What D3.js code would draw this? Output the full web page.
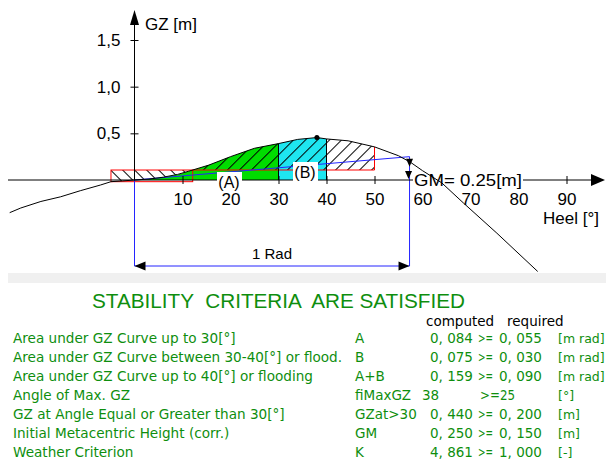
<!DOCTYPE html>
<html>
<head>
<meta charset="utf-8">
<script src="https://cdn.jsdelivr.net/npm/d3@7"></script>
<style>
  body { margin: 0; background: #fff; }
  svg { display: block; font-family: "Liberation Sans", Arial, sans-serif; }
</style>
</head>
<body>
<svg id="chart" width="606" height="463"></svg>
<script>
// GZ curve
const heel = [-26, -23.7, -19.5, -15.4, -11.3, -7.1, -4.9, -2.5, 0, 3, 6, 9, 12, 15.5, 20, 25, 30, 34, 38, 40, 44.5, 50, 55, 57.5, 60, 64, 68.5, 75.5, 84];
const gz = [-0.35, -0.30, -0.23, -0.18, -0.115, -0.054, -0.018, -0.01, 0, 0.01, 0.03, 0.06, 0.105, 0.16, 0.25, 0.34, 0.39, 0.435, 0.455, 0.44, 0.42, 0.355, 0.26, 0.19, 0.1, -0.03, -0.245, -0.57, -0.98];

const xTicks = [10, 20, 30, 40, 50, 60, 70, 80, 90];
const yTicks = [0.5, 1.0, 1.5];

// weather criterion / area limits
const GM = 0.25;
const windLever = 0.107;
const windBottom = -0.018;
const rollBack = -4.9;
const limA = [0, 30];
const limB = [30, 40];
const limWind = 50;
const oneRad = 57.3;

// criteria table
const critText = [
  "Area under GZ Curve up to 30[°]",
  "Area under GZ Curve between 30-40[°] or flood.",
  "Area under GZ Curve up to 40[°] or flooding",
  "Angle of Max. GZ",
  "GZ at Angle Equal or Greater than 30[°]",
  "Initial Metacentric Height (corr.)",
  "Weather Criterion"
];
const critSymbol = ["A", "B", "A+B", "fiMaxGZ", "GZat>30", "GM", "K"];
const critComputed = [0.084, 0.075, 0.159, 38, 0.440, 0.250, 4.861];
const critRequired = [0.055, 0.030, 0.090, 25, 0.200, 0.150, 1.000];
const critUnit = ["[m rad]", "[m rad]", "[m rad]", "[°]", "[m]", "[m]", "[-]"];

const svg = d3.select("#chart");
const x = d3.scaleLinear().domain([0, 90]).range([134.5, 566.5]);
const y = d3.scaleLinear().domain([0, 1.5]).range([180, 40]);
const gzAt = d3.scaleLinear().domain(heel).range(gz);

// where the wind lever crosses the rising curve
let cross = 0;
for (let i = 1; i < heel.length; i++) {
  if (heel[i] > 0 && gz[i - 1] < windLever && gz[i] >= windLever) {
    const t = (windLever - gz[i - 1]) / (gz[i] - gz[i - 1]);
    cross = heel[i - 1] + t * (heel[i] - heel[i - 1]);
    break;
  }
}

function curvePts(a, b) {
  const pts = [[a, gzAt(a)]];
  heel.forEach((h, i) => { if (h > a && h < b) pts.push([h, gz[i]]); });
  pts.push([b, gzAt(b)]);
  return pts;
}

const defs = svg.append("defs");
defs.append("clipPath").attr("id", "panel")
  .append("rect").attr("x", 8).attr("y", 0).attr("width", 598).attr("height", 273);

function hatch(id, angle, bg) {
  const p = defs.append("pattern").attr("id", id)
    .attr("patternUnits", "userSpaceOnUse")
    .attr("width", 8.5).attr("height", 8.5)
    .attr("patternTransform", "rotate(" + angle + ")");
  if (bg) p.append("rect").attr("width", 8.5).attr("height", 8.5).attr("fill", bg);
  p.append("line").attr("x1", 0.5).attr("y1", 0).attr("x2", 0.5).attr("y2", 8.5)
    .attr("stroke", "#000").attr("stroke-width", 1);
}
hatch("hatchA", -45, "#fff");
hatch("hatchB", 45, null);

const plot = svg.append("g").attr("clip-path", "url(#panel)");

const area = d3.area().x(d => x(d[0])).y0(y(0)).y1(d => y(d[1]));
const line = d3.line().x(d => x(d[0])).y(d => y(d[1]));

// A and B areas
plot.append("path").attr("d", area(curvePts(limA[0], limA[1]))).attr("fill", "#00dc00");
plot.append("path").attr("d", area(curvePts(limB[0], limB[1]))).attr("fill", "#1ee6f0");

// weather areas a and b
const areaSmall = [[rollBack, windLever], [cross, windLever]].concat(curvePts(rollBack, cross).reverse());
plot.append("path").attr("d", line(areaSmall) + "Z").attr("fill", "url(#hatchA)");
const areaBig = curvePts(cross, limWind).concat([[limWind, windLever], [cross, windLever]]);
plot.append("path").attr("d", line(areaBig) + "Z").attr("fill", "url(#hatchB)");

// wind lever lines
plot.append("rect")
  .attr("x", x(rollBack)).attr("y", y(windLever))
  .attr("width", x(cross) - x(rollBack)).attr("height", y(windBottom) - y(windLever))
  .attr("fill", "none").attr("stroke", "#ff0000");
plot.append("line")
  .attr("x1", x(cross)).attr("x2", x(limWind))
  .attr("y1", y(windLever)).attr("y2", y(windLever))
  .attr("stroke", "#ff0000");
plot.append("line")
  .attr("x1", x(limWind)).attr("x2", x(limWind))
  .attr("y1", y(gzAt(limWind))).attr("y2", y(windLever))
  .attr("stroke", "#ff0000");

// area dividers
[limA[1], limB[1]].forEach(h => {
  plot.append("line").attr("x1", x(h)).attr("x2", x(h))
    .attr("y1", y(gzAt(h))).attr("y2", y(0)).attr("stroke", "#000");
});

// GM tangent and 1 rad bracket
const blue = "#2424ff";
plot.append("line")
  .attr("x1", x(0)).attr("y1", y(0)).attr("x2", x(oneRad)).attr("y2", y(GM))
  .attr("stroke", blue);
const bracketY = 266;
plot.append("path")
  .attr("d", `M${x(0)},${y(0)}V${bracketY}H${x(oneRad)}V${y(GM)}`)
  .attr("fill", "none").attr("stroke", blue);
plot.append("path")
  .attr("d", `M${x(0)},${bracketY}l11,-4.5v9Z M${x(oneRad)},${bracketY}l-11,-4.5v9Z`)
  .attr("fill", "#000");
plot.append("path")
  .attr("d", `M${x(oneRad)},${y(GM) + 10}l-3.5,-8h7Z M${x(oneRad) - 1},${y(0) - 1}l-3.5,-8h7Z`)
  .attr("fill", "#000");
svg.append("text").attr("x", (x(0) + x(oneRad)) / 2).attr("y", 259)
  .attr("text-anchor", "middle").attr("font-size", 15).text("1 Rad");

// axes
const xAxis = svg.append("g").attr("transform", `translate(0,${y(0)})`)
  .call(d3.axisBottom(x).tickValues(xTicks).tickSize(4).tickPadding(9));
xAxis.select(".domain").remove();
xAxis.selectAll(".tick line").attr("y1", -4).attr("y2", 4);
xAxis.selectAll(".tick text").attr("font-size", 17).attr("font-family", null);

const yAxis = svg.append("g").attr("transform", `translate(${x(0)},0)`)
  .call(d3.axisLeft(y).tickValues(yTicks).tickSize(4).tickPadding(10)
    .tickFormat(d => d3.format(".1f")(d).replace(".", ",")));
yAxis.select(".domain").remove();
yAxis.selectAll(".tick line").attr("x1", -4).attr("x2", 4);
yAxis.selectAll(".tick text").attr("font-size", 17).attr("font-family", null);

svg.append("line").attr("x1", 8).attr("x2", 595).attr("y1", y(0)).attr("y2", y(0)).attr("stroke", "#000");
svg.append("path").attr("d", `M605,${y(0)}l-14,-6v12Z`).attr("fill", "#000");
svg.append("line").attr("x1", x(0)).attr("x2", x(0)).attr("y1", y(0)).attr("y2", 20).attr("stroke", "#000");
svg.append("path").attr("d", `M${x(0)},10l-4.5,15h9Z`).attr("fill", "#000");

svg.append("text").attr("x", 145).attr("y", 30).attr("font-size", 17).text("GZ [m]");
svg.append("text").attr("x", 543).attr("y", 224).attr("font-size", 17).text("Heel [°]");

// GM label sits on the axis with a white box
svg.append("rect").attr("x", 413).attr("y", 173).attr("width", 110).attr("height", 16).attr("fill", "#fff");

// GZ curve and max point
svg.append("g").attr("clip-path", "url(#panel)")
  .append("path").attr("d", line(heel.map((h, i) => [h, gz[i]])))
  .attr("fill", "none").attr("stroke", "#000");
const iMax = d3.maxIndex(gz);
svg.append("circle").attr("cx", x(heel[iMax])).attr("cy", y(gz[iMax])).attr("r", 2.5).attr("fill", "#000");

svg.append("text").attr("x", 414).attr("y", 186).attr("font-size", 16)
  .attr("textLength", 108).attr("lengthAdjust", "spacingAndGlyphs")
  .text("GM= " + d3.format(".2f")(GM) + "[m]");

// area labels
function areaLabel(txt, cx, cy) {
  svg.append("rect").attr("x", cx - 12).attr("y", cy - 10).attr("width", 25).attr("height", 19).attr("fill", "#fff");
  svg.append("text").attr("x", cx).attr("y", cy).attr("dy", "0.35em")
    .attr("text-anchor", "middle").attr("font-size", 16).text(txt);
}
areaLabel("(A)", 229, 182);
areaLabel("(B)", 305, 172);

// separator band
svg.append("rect").attr("x", 8).attr("y", 273).attr("width", 598).attr("height", 10).attr("fill", "#f0f0f0");

// criteria
const green = "#0e8e0e";
svg.append("text").attr("x", 92).attr("y", 308).attr("font-size", 21)
  .attr("fill", green).style("white-space", "pre")
  .attr("textLength", 373).attr("lengthAdjust", "spacingAndGlyphs")
  .text("STABILITY  CRITERIA  ARE SATISFIED");

const table = svg.append("g").attr("font-family", "'DejaVu Sans', sans-serif").attr("font-size", 13.5);
table.append("text").attr("x", 426).attr("y", 321.5).attr("dy", "0.35em").text("computed");
table.append("text").attr("x", 507).attr("y", 321.5).attr("dy", "0.35em").text("required");

const fmt = v => d3.format(".3f")(v).replace(".", ", ");
const rows = table.append("g").attr("fill", green);
critText.forEach((t, i) => {
  const cy = 338.5 + i * 19;
  const r = rows.append("g").attr("transform", `translate(0,${cy})`);
  r.append("text").attr("x", 13).attr("dy", "0.35em").attr("font-size", 13.6).text(t);
  r.append("text").attr("x", 355).attr("dy", "0.35em").text(critSymbol[i]);
  const isInt = Number.isInteger(critComputed[i]);
  if (isInt) {
    r.append("text").attr("x", 422).attr("dy", "0.35em").text(critComputed[i]);
    r.append("text").attr("x", 480).attr("dy", "0.35em")
      .attr("textLength", 35).attr("lengthAdjust", "spacingAndGlyphs")
      .text(">=" + critRequired[i]);
  } else {
    r.append("text").attr("x", 430).attr("dy", "0.35em").text(fmt(critComputed[i]));
    r.append("text").attr("x", 478).attr("dy", "0.35em")
      .attr("textLength", 15).attr("lengthAdjust", "spacingAndGlyphs").text(">=");
    r.append("text").attr("x", 499).attr("dy", "0.35em").text(fmt(critRequired[i]));
  }
  r.append("text").attr("x", 558).attr("dy", "0.35em").attr("font-size", 12.5).text(critUnit[i]);
});
</script>
</body>
</html>
